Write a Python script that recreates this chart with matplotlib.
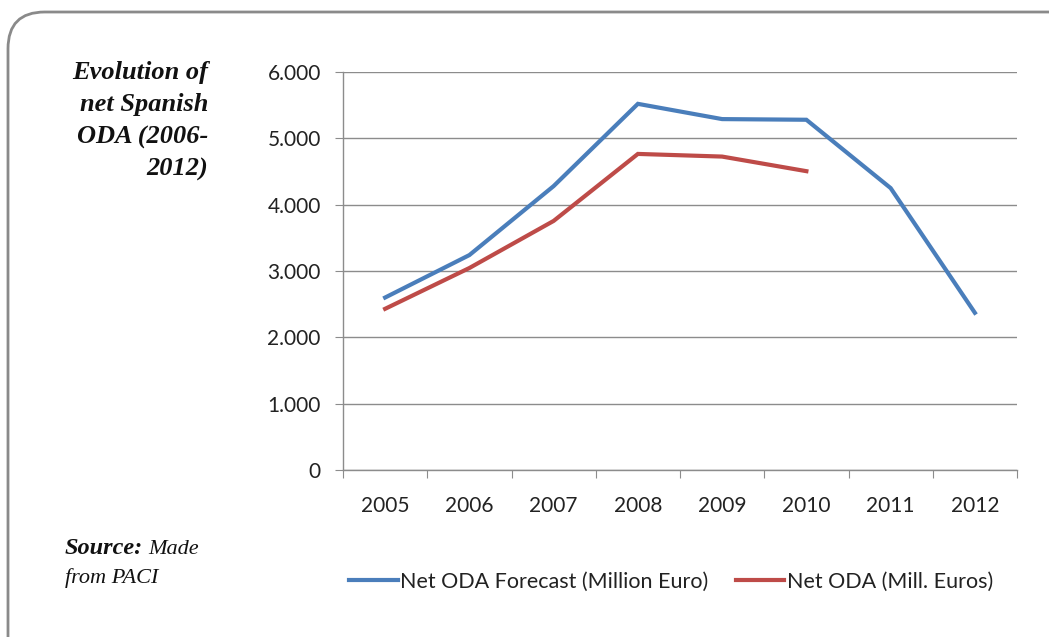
import matplotlib
matplotlib.use("Agg")
import matplotlib.pyplot as plt
from matplotlib.patches import FancyBboxPatch
from matplotlib.ticker import FuncFormatter, FixedLocator

years = ["2005", "2006", "2007", "2008", "2009", "2010", "2011", "2012"]
forecast = [2600, 3240, 4280, 5520, 5290, 5280, 4250, 2370]
net_oda = [2430, 3045, 3755, 4765, 4725, 4505]
yticks = [0, 1000, 2000, 3000, 4000, 5000, 6000]

W, H = 1049, 637
fig = plt.figure(figsize=(W / 100, H / 100), dpi=100)
fig.patch.set_facecolor("white")

# rounded border
border = FancyBboxPatch((8 / W, (H - 700) / H), 1100 / W, (700 - 12) / H,
                        boxstyle="round,pad=0,rounding_size=0.035",
                        transform=fig.transFigure, fill=False,
                        edgecolor="#8a8a8a", linewidth=2, mutation_aspect=W / H)
fig.patches.append(border)

ax = fig.add_axes([343 / W, (H - 470) / H, (1017 - 343) / W, (470 - 72) / H])

tick_font = "Lato"
x = list(range(len(years)))
ax.plot(x, forecast, color="#4A7EBB", lw=3, solid_joinstyle="miter",
        label="Net ODA Forecast (Million Euro)")
ax.plot(x[:len(net_oda)], net_oda, color="#BE4B48", lw=3, solid_joinstyle="miter",
        label="Net ODA (Mill. Euros)")

ax.set_xlim(-0.5, len(years) - 0.5)
ax.set_ylim(0, 6000)
ax.set_yticks(yticks)
ax.yaxis.set_major_formatter(FuncFormatter(lambda v, p: f"{int(v):,}".replace(",", ".")))
ax.grid(axis="y", color="#8c8c8c", lw=1)
ax.set_axisbelow(True)

ax.xaxis.set_major_locator(FixedLocator([i - 0.5 for i in range(len(years) + 1)]))
ax.xaxis.set_minor_locator(FixedLocator(x))
ax.set_xticklabels([], minor=False)
ax.set_xticklabels(years, minor=True)
ax.tick_params(axis="x", which="major", length=6, color="#8c8c8c", direction="out")
ax.tick_params(axis="x", which="minor", length=0, pad=19, labelsize=15, labelcolor="#222222")
ax.tick_params(axis="y", length=6, color="#8c8c8c", pad=10, labelsize=15, labelcolor="#222222")
for lab in ax.get_xticklabels(minor=True) + ax.get_yticklabels():
    lab.set_fontfamily(tick_font)

for s in ["top", "right"]:
    ax.spines[s].set_visible(False)
for s in ["left", "bottom"]:
    ax.spines[s].set_color("#8c8c8c")
    ax.spines[s].set_linewidth(1)

# title block
title_lines = ["Evolution of", "net Spanish", "ODA (2006-", "2012)"]
for i, t in enumerate(title_lines):
    fig.text(208 / W, 1 - (73 + i * 32) / H, t, ha="right", va="center",
             fontsize=19, fontstyle="italic", fontweight="bold",
             fontfamily="Liberation Serif", color="#111111")

# source
fig.text(65 / W, 1 - 548 / H, "Source:", ha="left", va="center", fontsize=17.5,
         fontstyle="italic", fontweight="bold", fontfamily="Liberation Serif", color="#111111")
fig.text(148 / W, 1 - 549 / H, "Made", ha="left", va="center", fontsize=16,
         fontstyle="italic", fontfamily="Liberation Serif", color="#111111")
fig.text(65 / W, 1 - 578 / H, "from PACI", ha="left", va="center", fontsize=16,
         fontstyle="italic", fontfamily="Liberation Serif", color="#111111")

leg = fig.legend(loc="center", bbox_to_anchor=(671 / W, 1 - 582 / H), ncol=2,
                 frameon=False, handlelength=2.25, handletextpad=0.1, columnspacing=1.3,
                 prop={"family": tick_font, "size": 15.5})
for t in leg.get_texts():
    t.set_color("#222222")

fig.savefig("out.png", dpi=100, facecolor="white")
